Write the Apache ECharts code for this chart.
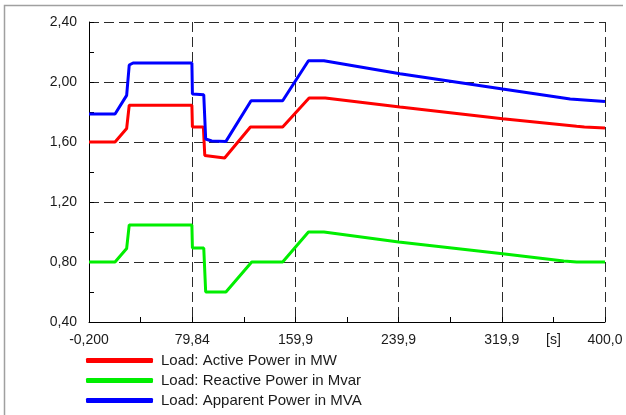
<!DOCTYPE html>
<html>
<head>
<meta charset="utf-8">
<script src="https://cdn.jsdelivr.net/npm/echarts@6/dist/echarts.min.js"></script>
<style>
  html, body { margin: 0; padding: 0; background: #ffffff; }
  #chart { width: 626px; height: 415px; }
</style>
</head>
<body>
<div id="chart"></div>
<script>
// Load quantities over simulation time [s]
const seriesNames = [
  'Load: Active Power in MW',
  'Load: Reactive Power in Mvar',
  'Load: Apparent Power in MVA'
];

const activeTime  = [-0.2, 20, 29, 31, 79.6, 80, 88.5, 89.6, 105, 125, 150, 170.5, 183, 241, 320.6, 378, 384, 385, 400];
const activeValue = [1.60, 1.60, 1.69, 1.845, 1.845, 1.70, 1.70, 1.51, 1.493, 1.70, 1.70, 1.893, 1.893, 1.833, 1.755, 1.705, 1.70, 1.693, 1.693];

const reactiveTime  = [-0.2, 20, 29, 31, 79.6, 80, 88.8, 90.3, 106, 126, 150, 170, 182, 240, 320.6, 368, 378, 400];
const reactiveValue = [0.80, 0.80, 0.89, 1.047, 1.047, 0.893, 0.893, 0.60, 0.60, 0.80, 0.80, 1.00, 1.00, 0.933, 0.855, 0.807, 0.80, 0.80];

const apparentTime  = [-0.2, 20, 29, 31, 34, 79.6, 80, 88.8, 90.3, 95, 106, 125.5, 150, 170, 182, 241, 320.6, 373, 400];
const apparentValue = [1.787, 1.787, 1.911, 2.113, 2.127, 2.127, 1.92, 1.915, 1.62, 1.607, 1.604, 1.875, 1.875, 2.142, 2.142, 2.055, 1.953, 1.887, 1.870];

// Axis tick labels (one per half step of each axis)
const xTickLabels = ['-0,200', '', '79,84', '', '159,9', '', '239,9', '', '319,9', '[s]', '400,0'];
const yTickLabels = ['0,40', '', '0,80', '', '1,20', '', '1,60', '', '2,00', '', '2,40'];

const seriesColors = ['#ff0000', '#00ee00', '#0000ff'];

// The time axis is shifted so that it starts at 0 and ticks fall on multiples of the step
const T0 = -0.2;
const T1 = 400.0;
const X_STEP = (T1 - T0) / 10;
function toPairs(times, values) {
  return times.map((t, i) => [t - T0, values[i]]);
}

const FONT = '"Liberation Sans", Arial, sans-serif';
const TEXT_COLOR = '#1a1a1a';
const GRID_LINE = { color: '#2a2a2a', width: 1, type: [10, 5] };

const chart = echarts.init(document.getElementById('chart'), null, { renderer: 'canvas' });

const seriesData = [
  toPairs(activeTime, activeValue),
  toPairs(reactiveTime, reactiveValue),
  toPairs(apparentTime, apparentValue)
];

// One legend row per series, stacked 20px apart
const legends = seriesNames.map((name, i) => ({
  orient: 'vertical',
  left: 86,
  top: 353 + i * 20,
  padding: 0,
  itemWidth: 67,
  itemHeight: 5,
  icon: 'roundRect',
  data: [name],
  textStyle: { color: TEXT_COLOR, fontFamily: FONT, fontSize: 15, padding: [0, 0, 0, 3] }
}));

chart.setOption({
  animation: false,
  backgroundColor: '#ffffff',
  grid: { left: 89, top: 22, width: 516, height: 300, containLabel: false },
  xAxis: [
    {
      type: 'value',
      min: 0,
      max: T1 - T0,
      interval: X_STEP,
      axisLine: { show: true, onZero: false, lineStyle: { color: '#000000', width: 1 } },
      axisTick: { show: true, inside: true, length: 5, lineStyle: { color: '#000000', width: 1 } },
      splitLine: { show: false },
      axisLabel: {
        show: true,
        margin: 11,
        color: TEXT_COLOR,
        fontFamily: FONT,
        fontSize: 14,
        showMinLabel: true,
        showMaxLabel: true,
        formatter: function (v) {
          const idx = Math.round(v / X_STEP);
          return xTickLabels[idx] || '';
        }
      }
    },
    {
      type: 'value',
      position: 'top',
      min: 0,
      max: T1 - T0,
      interval: X_STEP * 2,
      axisLine: { show: false },
      axisTick: { show: false },
      axisLabel: { show: false },
      splitLine: { show: true, lineStyle: GRID_LINE }
    }
  ],
  yAxis: [
    {
      type: 'value',
      min: 0.4,
      max: 2.4,
      interval: 0.2,
      axisLine: { show: true, onZero: false, lineStyle: { color: '#000000', width: 1 } },
      axisTick: { show: true, inside: true, length: 5, lineStyle: { color: '#000000', width: 1 } },
      splitLine: { show: false },
      axisLabel: {
        show: true,
        margin: 12,
        color: TEXT_COLOR,
        fontFamily: FONT,
        fontSize: 14,
        padding: [3, 0, 0, 0],
        formatter: function (v) {
          const idx = Math.round((v - 0.4) / 0.2);
          return yTickLabels[idx] || '';
        }
      }
    },
    {
      type: 'value',
      position: 'right',
      min: 0.4,
      max: 2.4,
      interval: 0.4,
      axisLine: { show: false },
      axisTick: { show: false },
      axisLabel: { show: false },
      splitLine: { show: true, lineStyle: GRID_LINE }
    }
  ],
  legend: legends,
  series: seriesNames.map((name, i) => ({
    name: name,
    type: 'line',
    xAxisIndex: 0,
    yAxisIndex: 0,
    data: seriesData[i],
    showSymbol: false,
    symbol: 'none',
    color: seriesColors[i],
    lineStyle: { color: seriesColors[i], width: 3 },
    z: 3 + i
  })),
  graphic: [
    {
      type: 'polyline',
      silent: true,
      shape: { points: [[4.5, 420], [4.5, 5.5], [623, 5.5]] },
      style: { stroke: '#a0a0a0', lineWidth: 1.5, fill: null }
    }
  ]
});
</script>
</body>
</html>
